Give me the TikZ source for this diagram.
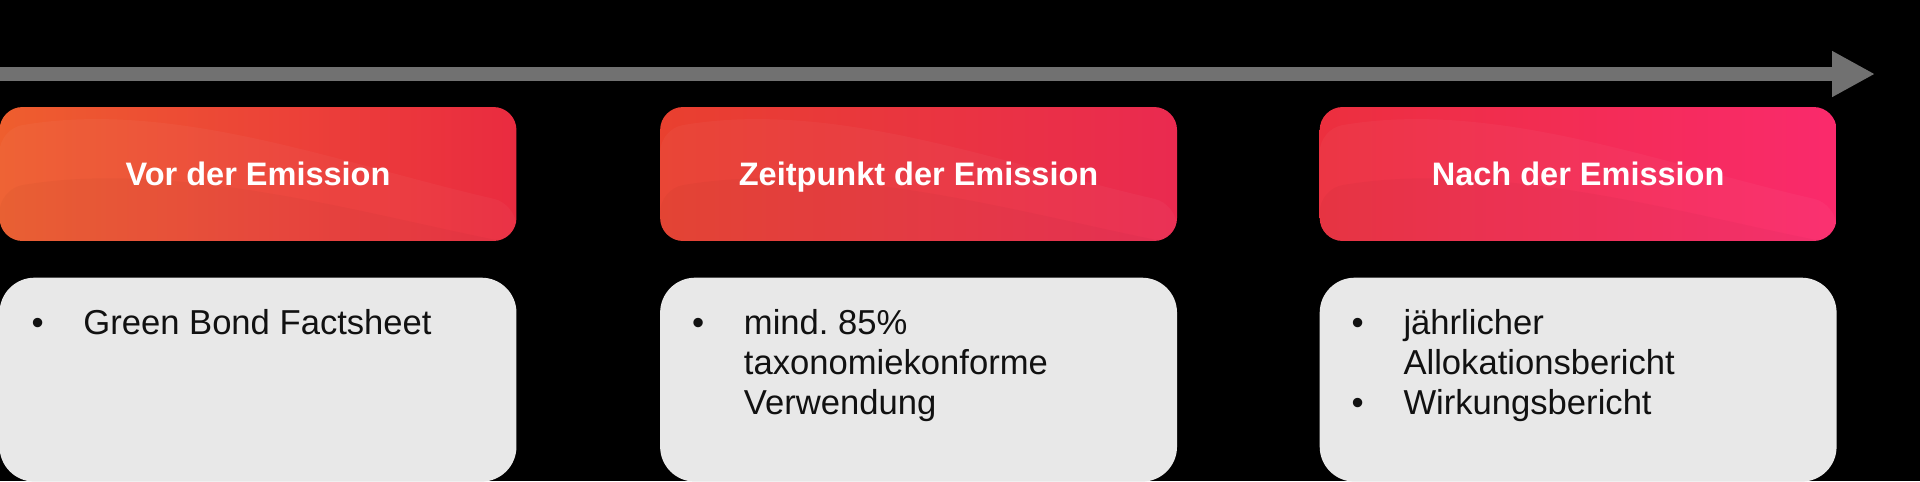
\documentclass[tikz,border=0pt]{standalone}
\usepackage{fontspec}
\setmainfont{Liberation Sans}
\usetikzlibrary{positioning,arrows.meta}

\definecolor{timelinegray}{HTML}{717171}
\definecolor{boxgray}{HTML}{E8E8E8}
\definecolor{textblack}{HTML}{111111}
\definecolor{preL}{HTML}{EE5E2E}
\definecolor{preR}{HTML}{EA2B40}
\definecolor{issueL}{HTML}{E9402F}
\definecolor{issueR}{HTML}{EA2A50}
\definecolor{postL}{HTML}{EC2F3E}
\definecolor{postR}{HTML}{FA2A6C}

\newcommand\blt{\makebox[29.5pt][l]{\textbullet}}
\newcommand\ind{\hspace*{29.5pt}}
\frenchspacing

\begin{document}
\begin{tikzpicture}[x=0.02cm,y=-0.02cm]
\tikzset{phase/.style={rounded corners=0.46cm, minimum width=10.34cm, minimum height=2.68cm,
    inner sep=0pt, text=white, text height=13.3pt, text depth=0pt,
    font=\fontsize{18.5}{22}\selectfont\bfseries,
    path picture={
      \fill[white,opacity=.035] ([yshift=0.9cm]path picture bounding box.west)
        .. controls ([xshift=3.5cm,yshift=1.5cm]path picture bounding box.west)
        and ([xshift=-3.5cm,yshift=0.2cm]path picture bounding box.east)
        .. ([yshift=-0.6cm]path picture bounding box.east)
        -- (path picture bounding box.south east) -- (path picture bounding box.south west) -- cycle;
      \fill[black,opacity=.025] ([yshift=-0.3cm]path picture bounding box.west)
        .. controls ([xshift=3.5cm,yshift=0.3cm]path picture bounding box.west)
        and ([xshift=-3cm,yshift=-0.8cm]path picture bounding box.east)
        .. ([yshift=-1.4cm]path picture bounding box.east)
        -- (path picture bounding box.south east) -- (path picture bounding box.south west) -- cycle;
    }}}
\tikzset{detail/.style={fill=boxgray, rounded corners=0.7cm, minimum width=10.34cm, minimum height=4.08cm, inner sep=0pt}}
\tikzset{items/.style={anchor=north west, align=left, inner sep=0pt, text=textblack, font=\fontsize{19.7}{22.7}\selectfont}}
\tikzset{timeline/.style={draw=timelinegray, line width=0.29cm, -{Triangle[width=0.86cm,length=0.86cm]}}}

\fill[black] (0,0) rectangle (1920,481);
\useasboundingbox (0,0) rectangle (1920,481);

% zeitstrahl
\coordinate (tl start) at (-10,74);
\coordinate (tl end) at (1875,74);
\draw[timeline] (tl start) -- (tl end);

% phasen
\node[phase, left color=preL, right color=preR] (pre) at (258,174) {Vor der Emission};
\node[phase, left color=issueL, right color=issueR, right=2.86cm of pre] (issue) {Zeitpunkt der Emission};
\node[phase, left color=postL, right color=postR, right=2.84cm of issue] (post) {Nach der Emission};

% inhalte
\node[detail, below=0.72cm of pre] (pre box) {};
\node[detail, below=0.72cm of issue] (issue box) {};
\node[detail, below=0.72cm of post] (post box) {};

\node[items] (pre items) at ([xshift=0.64cm,yshift=-0.64cm]pre box.north west) {\blt Green Bond Factsheet};
\node[items] (issue items) at ([xshift=0.64cm,yshift=-0.64cm]issue box.north west) {\blt mind. 85\%\\ \ind taxonomiekonforme\\ \ind Verwendung};
\node[items] (post items) at ([xshift=0.64cm,yshift=-0.64cm]post box.north west) {\blt jährlicher\\ \ind Allokationsbericht\\ \blt Wirkungsbericht};

\end{tikzpicture}
\end{document}
